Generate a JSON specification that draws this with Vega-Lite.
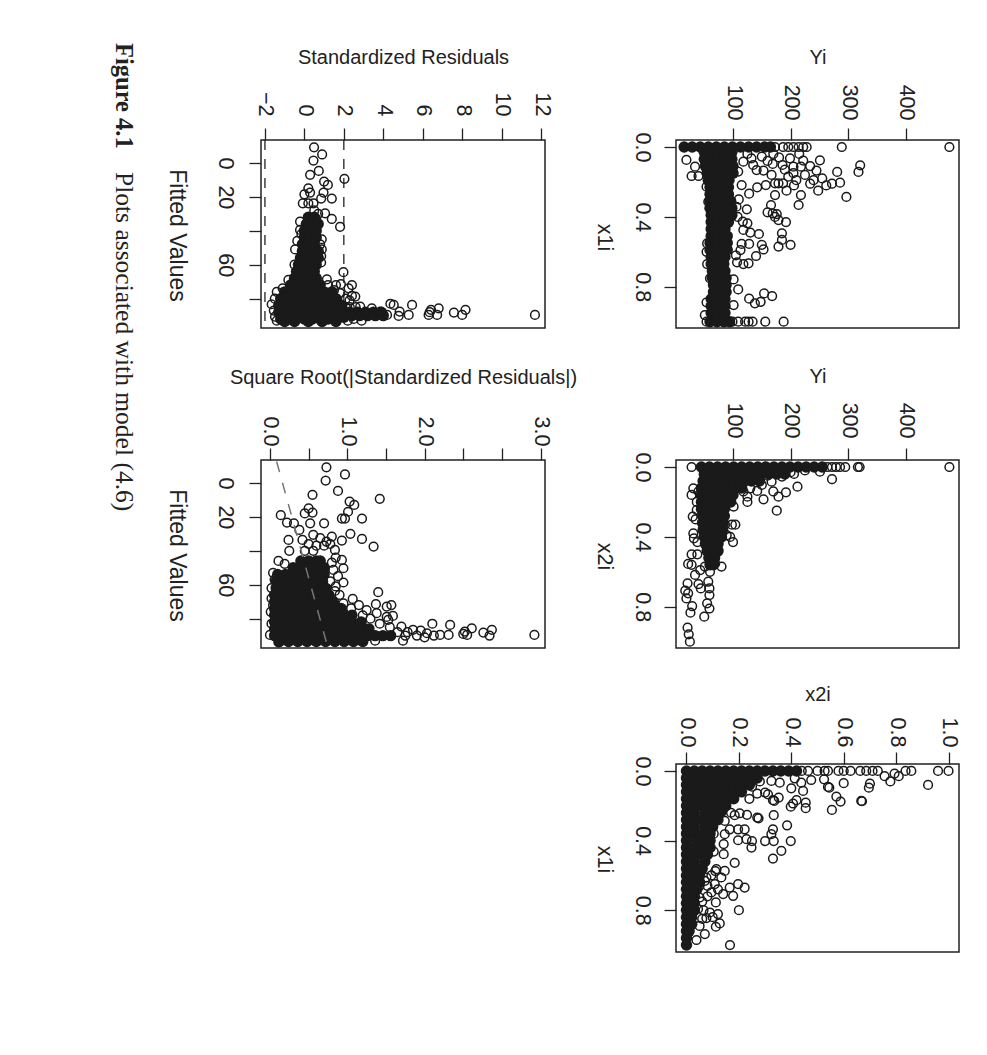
{"$schema":"https://vega.github.io/schema/vega-lite/v6.json","background":"white","padding":{"left":110,"top":43,"right":0,"bottom":0},"bounds":"flush","columns":3,"spacing":{"row":40,"column":131},
"config":{"axis":{"labelFont":"Liberation Sans","labelFontSize":21.5,"labelColor":"#222","tickColor":"#222","tickWidth":1.3,"tickSize":12,"domain":false,"grid":false,"titleFont":"Liberation Sans","titleFontSize":20,"titleFontWeight":"normal","titleColor":"#222","labelOverlap":false,"labelFlush":false,"labelBound":false}},
"datasets":{
"p1r":[{"x":476,"y":0},{"x":289,"y":0},{"x":228,"y":0},{"x":222,"y":0},{"x":214,"y":0},{"x":205,"y":0},{"x":196,"y":0},{"x":187,"y":0},{"x":173,"y":0},{"x":321,"y":0.105},{"x":318,"y":0.143},{"x":281,"y":0.143},{"x":286,"y":0.204},{"x":297,"y":0.286},{"x":251,"y":0.076},{"x":234,"y":0.109},{"x":245,"y":0.135},{"x":255,"y":0.18},{"x":272,"y":0.21},{"x":262,"y":0.22},{"x":248,"y":0.25},{"x":234,"y":0.21},{"x":222,"y":0.078},{"x":215,"y":0.04},{"x":218,"y":0.113},{"x":205,"y":0.113},{"x":196,"y":0.17},{"x":187,"y":0.208},{"x":193,"y":0.25},{"x":206,"y":0.22},{"x":218,"y":0.275},{"x":214,"y":0.332},{"x":173,"y":0.275},{"x":166,"y":0.332},{"x":160,"y":0.374},{"x":169,"y":0.38},{"x":176,"y":0.384},{"x":173,"y":0.4},{"x":179,"y":0.418},{"x":192,"y":0.43},{"x":185,"y":0.494},{"x":185,"y":0.532},{"x":200,"y":0.56},{"x":179,"y":0.57},{"x":150,"y":0.56},{"x":153,"y":0.586},{"x":140,"y":0.624},{"x":145,"y":0.498},{"x":130,"y":0.49},{"x":128,"y":0.555},{"x":115,"y":0.555},{"x":118,"y":0.475},{"x":125,"y":0.437},{"x":117,"y":0.427},{"x":124,"y":0.357},{"x":113,"y":0.59},{"x":127,"y":0.666},{"x":118,"y":0.67},{"x":109,"y":0.815},{"x":128,"y":0.868},{"x":138,"y":0.895},{"x":148,"y":0.886},{"x":154,"y":0.838},{"x":168,"y":0.853},{"x":188,"y":1},{"x":156,"y":1},{"x":134,"y":1},{"x":127,"y":1},{"x":121,"y":1},{"x":109,"y":1},{"x":128,"y":0.267},{"x":115,"y":0.218},{"x":142,"y":0.231},{"x":157,"y":0.218},{"x":173,"y":0.208},{"x":141,"y":0.132},{"x":153,"y":0.135},{"x":167,"y":0.16},{"x":179,"y":0.208},{"x":169,"y":0.097},{"x":186,"y":0.103},{"x":199,"y":0.065},{"x":150,"y":0.055},{"x":132,"y":0.065},{"x":135,"y":0.103},{"x":118,"y":0.084},{"x":109,"y":0.141},{"x":19,"y":0.074},{"x":34,"y":0.113},{"x":28,"y":0.166},{"x":40,"y":0.166},{"x":54,"y":0.227},{"x":57,"y":0.313},{"x":55,"y":0.552},{"x":54,"y":0.6},{"x":55,"y":0.67},{"x":60,"y":0.752},{"x":54,"y":0.889},{"x":51,"y":0.962},{"x":54,"y":1},{"x":106,"y":0.342},{"x":101,"y":0.758},{"x":101,"y":0.905},{"x":99,"y":1},{"x":180,"y":0.06},{"x":160,"y":0.08},{"x":205,"y":0.15},{"x":190,"y":0.13},{"x":225,"y":0.16},{"x":240,"y":0.19},{"x":210,"y":0.19},{"x":170,"y":0.04},{"x":125,"y":0.04},{"x":110,"y":0.3},{"x":108,"y":0.4},{"x":105,"y":0.62},{"x":107,"y":0.66}],
"p1c":[{"x":15,"y":0},{"x":29,"y":0},{"x":43,"y":0},{"x":57,"y":0},{"x":71,"y":0},{"x":85,"y":0},{"x":99,"y":0},{"x":113,"y":0},{"x":127,"y":0},{"x":141,"y":0},{"x":155,"y":0},{"x":165,"y":0},{"x":50,"y":0.03},{"x":62,"y":0.03},{"x":74,"y":0.03},{"x":86,"y":0.03},{"x":98,"y":0.03},{"x":50,"y":0.07},{"x":62,"y":0.07},{"x":74,"y":0.07},{"x":86,"y":0.07},{"x":98,"y":0.07},{"x":52,"y":0.11},{"x":64,"y":0.11},{"x":76,"y":0.11},{"x":88,"y":0.11},{"x":100,"y":0.11},{"x":55,"y":0.15},{"x":67,"y":0.15},{"x":79,"y":0.15},{"x":91,"y":0.15},{"x":100,"y":0.15},{"x":57,"y":0.19},{"x":69,"y":0.19},{"x":81,"y":0.19},{"x":93,"y":0.19},{"x":60,"y":0.23},{"x":70,"y":0.23},{"x":82,"y":0.23},{"x":92,"y":0.23},{"x":60,"y":0.27},{"x":72,"y":0.27},{"x":84,"y":0.27},{"x":92,"y":0.27},{"x":60,"y":0.31},{"x":72,"y":0.31},{"x":84,"y":0.31},{"x":96,"y":0.31},{"x":60,"y":0.35},{"x":72,"y":0.35},{"x":84,"y":0.35},{"x":98,"y":0.35},{"x":62,"y":0.39},{"x":74,"y":0.39},{"x":86,"y":0.39},{"x":98,"y":0.39},{"x":62,"y":0.43},{"x":74,"y":0.43},{"x":86,"y":0.43},{"x":92,"y":0.43},{"x":62,"y":0.47},{"x":74,"y":0.47},{"x":86,"y":0.47},{"x":62,"y":0.51},{"x":74,"y":0.51},{"x":86,"y":0.51},{"x":90,"y":0.51},{"x":60,"y":0.55},{"x":72,"y":0.55},{"x":84,"y":0.55},{"x":90,"y":0.55},{"x":60,"y":0.59},{"x":72,"y":0.59},{"x":84,"y":0.59},{"x":90,"y":0.59},{"x":62,"y":0.63},{"x":74,"y":0.63},{"x":86,"y":0.63},{"x":62,"y":0.67},{"x":74,"y":0.67},{"x":84,"y":0.67},{"x":64,"y":0.71},{"x":76,"y":0.71},{"x":86,"y":0.71},{"x":64,"y":0.75},{"x":76,"y":0.75},{"x":88,"y":0.75},{"x":66,"y":0.79},{"x":76,"y":0.79},{"x":88,"y":0.79},{"x":66,"y":0.83},{"x":76,"y":0.83},{"x":88,"y":0.83},{"x":62,"y":0.87},{"x":74,"y":0.87},{"x":86,"y":0.87},{"x":62,"y":0.91},{"x":74,"y":0.91},{"x":86,"y":0.91},{"x":62,"y":0.95},{"x":74,"y":0.95},{"x":86,"y":0.95},{"x":60,"y":1},{"x":72,"y":1},{"x":84,"y":1},{"x":94,"y":1}],
"p2r":[{"x":476,"y":0},{"x":320,"y":0},{"x":317,"y":0},{"x":295,"y":0},{"x":286,"y":0},{"x":279,"y":0},{"x":272,"y":0},{"x":264,"y":0},{"x":28,"y":0},{"x":272,"y":0.07},{"x":251,"y":0.027},{"x":212,"y":0.113},{"x":206,"y":0.04},{"x":192,"y":0.145},{"x":176,"y":0.25},{"x":179,"y":0.17},{"x":170,"y":0.14},{"x":185,"y":0.055},{"x":153,"y":0.185},{"x":125,"y":0.2},{"x":125,"y":0.17},{"x":142,"y":0.137},{"x":130,"y":0.122},{"x":150,"y":0.103},{"x":167,"y":0.084},{"x":101,"y":0.227},{"x":98,"y":0.33},{"x":104,"y":0.33},{"x":95,"y":0.4},{"x":100,"y":0.43},{"x":80,"y":0.57},{"x":86,"y":0.33},{"x":89,"y":0.39},{"x":31,"y":0.122},{"x":28,"y":0.16},{"x":37,"y":0.2},{"x":37,"y":0.246},{"x":30,"y":0.284},{"x":31,"y":0.38},{"x":32,"y":0.408},{"x":28,"y":0.5},{"x":22,"y":0.555},{"x":38,"y":0.5},{"x":28,"y":0.56},{"x":21,"y":0.666},{"x":17,"y":0.708},{"x":22,"y":0.723},{"x":19,"y":0.752},{"x":34,"y":0.618},{"x":40,"y":0.67},{"x":44,"y":0.695},{"x":57,"y":0.656},{"x":59,"y":0.695},{"x":59,"y":0.733},{"x":55,"y":0.78},{"x":59,"y":0.81},{"x":29,"y":0.796},{"x":26,"y":0.834},{"x":50,"y":0.857},{"x":21,"y":0.92},{"x":23,"y":0.958},{"x":25,"y":1},{"x":69,"y":0.504},{"x":63,"y":0.552},{"x":51,"y":0.57},{"x":43,"y":0.59},{"x":60,"y":0.6},{"x":69,"y":0.552},{"x":38,"y":0.43},{"x":35,"y":0.3},{"x":40,"y":0.14},{"x":110,"y":0.12},{"x":118,"y":0.14},{"x":160,"y":0.05},{"x":200,"y":0.03},{"x":225,"y":0.02}],
"p2c":[{"x":45,"y":0},{"x":59,"y":0},{"x":73,"y":0},{"x":87,"y":0},{"x":101,"y":0},{"x":115,"y":0},{"x":129,"y":0},{"x":143,"y":0},{"x":157,"y":0},{"x":171,"y":0},{"x":185,"y":0},{"x":199,"y":0},{"x":213,"y":0},{"x":227,"y":0},{"x":241,"y":0},{"x":255,"y":0},{"x":50,"y":0.04},{"x":64,"y":0.04},{"x":78,"y":0.04},{"x":92,"y":0.04},{"x":106,"y":0.04},{"x":120,"y":0.04},{"x":134,"y":0.04},{"x":148,"y":0.04},{"x":162,"y":0.04},{"x":176,"y":0.04},{"x":190,"y":0.04},{"x":48,"y":0.08},{"x":62,"y":0.08},{"x":76,"y":0.08},{"x":90,"y":0.08},{"x":104,"y":0.08},{"x":118,"y":0.08},{"x":132,"y":0.08},{"x":146,"y":0.08},{"x":45,"y":0.12},{"x":59,"y":0.12},{"x":73,"y":0.12},{"x":87,"y":0.12},{"x":101,"y":0.12},{"x":115,"y":0.12},{"x":45,"y":0.16},{"x":59,"y":0.16},{"x":73,"y":0.16},{"x":87,"y":0.16},{"x":100,"y":0.16},{"x":45,"y":0.2},{"x":59,"y":0.2},{"x":73,"y":0.2},{"x":87,"y":0.2},{"x":96,"y":0.2},{"x":45,"y":0.24},{"x":59,"y":0.24},{"x":73,"y":0.24},{"x":85,"y":0.24},{"x":47,"y":0.28},{"x":59,"y":0.28},{"x":73,"y":0.28},{"x":85,"y":0.28},{"x":47,"y":0.32},{"x":59,"y":0.32},{"x":73,"y":0.32},{"x":83,"y":0.32},{"x":48,"y":0.36},{"x":60,"y":0.36},{"x":72,"y":0.36},{"x":82,"y":0.36},{"x":50,"y":0.4},{"x":62,"y":0.4},{"x":74,"y":0.4},{"x":80,"y":0.4},{"x":52,"y":0.44},{"x":64,"y":0.44},{"x":74,"y":0.44},{"x":55,"y":0.48},{"x":66,"y":0.48},{"x":74,"y":0.48},{"x":58,"y":0.52},{"x":68,"y":0.52},{"x":60,"y":0.56},{"x":66,"y":0.56}],
"p3r":[{"x":1,"y":0},{"x":0.96,"y":0},{"x":0.858,"y":0},{"x":0.836,"y":0},{"x":0.794,"y":0.015},{"x":0.81,"y":0.03},{"x":0.778,"y":0.06},{"x":0.756,"y":0.03},{"x":0.73,"y":0},{"x":0.71,"y":0},{"x":0.686,"y":0},{"x":0.663,"y":0},{"x":0.626,"y":0},{"x":0.6,"y":0},{"x":0.58,"y":0},{"x":0.54,"y":0},{"x":0.527,"y":0},{"x":0.5,"y":0},{"x":0.464,"y":0},{"x":0.44,"y":0},{"x":0.922,"y":0.08},{"x":0.7,"y":0.073},{"x":0.696,"y":0.096},{"x":0.6,"y":0.07},{"x":0.54,"y":0.092},{"x":0.545,"y":0.096},{"x":0.525,"y":0.048},{"x":0.476,"y":0.052},{"x":0.445,"y":0.115},{"x":0.4,"y":0.1},{"x":0.413,"y":0.042},{"x":0.438,"y":0.067},{"x":0.356,"y":0.067},{"x":0.324,"y":0.057},{"x":0.3,"y":0.124},{"x":0.311,"y":0.134},{"x":0.33,"y":0.168},{"x":0.335,"y":0.172},{"x":0.352,"y":0.153},{"x":0.572,"y":0.147},{"x":0.588,"y":0.176},{"x":0.555,"y":0.224},{"x":0.667,"y":0.172},{"x":0.67,"y":0.174},{"x":0.455,"y":0.182},{"x":0.455,"y":0.214},{"x":0.42,"y":0.168},{"x":0.407,"y":0.187},{"x":0.398,"y":0.205},{"x":0.333,"y":0.254},{"x":0.27,"y":0.268},{"x":0.275,"y":0.272},{"x":0.231,"y":0.252},{"x":0.203,"y":0.243},{"x":0.184,"y":0.254},{"x":0.384,"y":0.312},{"x":0.33,"y":0.335},{"x":0.324,"y":0.363},{"x":0.3,"y":0.403},{"x":0.333,"y":0.403},{"x":0.398,"y":0.403},{"x":0.362,"y":0.459},{"x":0.33,"y":0.503},{"x":0.25,"y":0.403},{"x":0.248,"y":0.44},{"x":0.222,"y":0.335},{"x":0.197,"y":0.335},{"x":0.165,"y":0.335},{"x":0.229,"y":0.392},{"x":0.197,"y":0.398},{"x":0.146,"y":0.363},{"x":0.142,"y":0.42},{"x":0.142,"y":0.478},{"x":0.184,"y":0.528},{"x":0.104,"y":0.463},{"x":0.104,"y":0.36},{"x":0.222,"y":0.67},{"x":0.197,"y":0.65},{"x":0.165,"y":0.67},{"x":0.178,"y":0.717},{"x":0.2,"y":0.8},{"x":0.166,"y":1},{"x":0.146,"y":0.574},{"x":0.133,"y":0.612},{"x":0.12,"y":0.68},{"x":0.14,"y":0.707},{"x":0.108,"y":0.65},{"x":0.095,"y":0.698},{"x":0.112,"y":0.755},{"x":0.12,"y":0.822},{"x":0.127,"y":0.876},{"x":0.112,"y":0.895},{"x":0.076,"y":0.845},{"x":0.089,"y":0.813},{"x":0.05,"y":0.727},{"x":0.044,"y":0.793},{"x":0.07,"y":0.937},{"x":0.038,"y":0.971},{"x":0.076,"y":0.612},{"x":0.07,"y":0.631},{"x":0.114,"y":0.564},{"x":0.146,"y":0.287},{"x":0.11,"y":0.575},{"x":0.095,"y":0.6},{"x":0.08,"y":0.66},{"x":0.06,"y":0.85},{"x":0.05,"y":0.89},{"x":0.08,"y":0.72},{"x":0.1,"y":0.84},{"x":0.17,"y":0.24},{"x":0.14,"y":0.22},{"x":0.24,"y":0.16},{"x":0.27,"y":0.13},{"x":0.25,"y":0.09},{"x":0.28,"y":0.06},{"x":0.06,"y":0.75},{"x":0.065,"y":0.8},{"x":0.05,"y":0.66},{"x":0.045,"y":0.58}],
"p3c":[{"x":0,"y":0},{"x":0.03,"y":0},{"x":0.06,"y":0},{"x":0.09,"y":0},{"x":0.12,"y":0},{"x":0.15,"y":0},{"x":0.18,"y":0},{"x":0.21,"y":0},{"x":0.24,"y":0},{"x":0.27,"y":0},{"x":0.3,"y":0},{"x":0.33,"y":0},{"x":0.36,"y":0},{"x":0.39,"y":0},{"x":0.42,"y":0},{"x":0,"y":0.04},{"x":0.03,"y":0.04},{"x":0.06,"y":0.04},{"x":0.09,"y":0.04},{"x":0.12,"y":0.04},{"x":0.15,"y":0.04},{"x":0.18,"y":0.04},{"x":0.21,"y":0.04},{"x":0.24,"y":0.04},{"x":0.27,"y":0.04},{"x":0,"y":0.08},{"x":0.03,"y":0.08},{"x":0.06,"y":0.08},{"x":0.09,"y":0.08},{"x":0.12,"y":0.08},{"x":0.15,"y":0.08},{"x":0.18,"y":0.08},{"x":0.21,"y":0.08},{"x":0.24,"y":0.08},{"x":0,"y":0.12},{"x":0.03,"y":0.12},{"x":0.06,"y":0.12},{"x":0.09,"y":0.12},{"x":0.12,"y":0.12},{"x":0.15,"y":0.12},{"x":0.18,"y":0.12},{"x":0.21,"y":0.12},{"x":0,"y":0.16},{"x":0.03,"y":0.16},{"x":0.06,"y":0.16},{"x":0.09,"y":0.16},{"x":0.12,"y":0.16},{"x":0.15,"y":0.16},{"x":0.18,"y":0.16},{"x":0,"y":0.2},{"x":0.03,"y":0.2},{"x":0.06,"y":0.2},{"x":0.09,"y":0.2},{"x":0.12,"y":0.2},{"x":0.15,"y":0.2},{"x":0,"y":0.24},{"x":0.03,"y":0.24},{"x":0.07,"y":0.24},{"x":0.1,"y":0.24},{"x":0.13,"y":0.24},{"x":0,"y":0.28},{"x":0.03,"y":0.28},{"x":0.06,"y":0.28},{"x":0.09,"y":0.28},{"x":0.12,"y":0.28},{"x":0,"y":0.32},{"x":0.03,"y":0.32},{"x":0.07,"y":0.32},{"x":0.1,"y":0.32},{"x":0,"y":0.36},{"x":0.03,"y":0.36},{"x":0.06,"y":0.36},{"x":0.09,"y":0.36},{"x":0,"y":0.4},{"x":0.04,"y":0.4},{"x":0.07,"y":0.4},{"x":0.09,"y":0.4},{"x":0,"y":0.44},{"x":0.03,"y":0.44},{"x":0.06,"y":0.44},{"x":0.09,"y":0.44},{"x":0,"y":0.48},{"x":0.03,"y":0.48},{"x":0.06,"y":0.48},{"x":0.08,"y":0.48},{"x":0,"y":0.52},{"x":0.03,"y":0.52},{"x":0.07,"y":0.52},{"x":0,"y":0.56},{"x":0.03,"y":0.56},{"x":0.06,"y":0.56},{"x":0,"y":0.6},{"x":0.03,"y":0.6},{"x":0.05,"y":0.6},{"x":0,"y":0.64},{"x":0.03,"y":0.64},{"x":0.05,"y":0.64},{"x":0,"y":0.68},{"x":0.03,"y":0.68},{"x":0.04,"y":0.68},{"x":0,"y":0.72},{"x":0.03,"y":0.72},{"x":0,"y":0.76},{"x":0.03,"y":0.76},{"x":0,"y":0.8},{"x":0.03,"y":0.8},{"x":0,"y":0.84},{"x":0.02,"y":0.84},{"x":0,"y":0.88},{"x":0.02,"y":0.88},{"x":0,"y":0.92},{"x":0.01,"y":0.92},{"x":0,"y":0.96},{"x":0,"y":1}],
"p4r":[{"x":0.49,"y":-9.2},{"x":0.9,"y":-5},{"x":0.46,"y":-1.4},{"x":0.73,"y":4.7},{"x":0.29,"y":7},{"x":2.03,"y":9.4},{"x":1,"y":11},{"x":1.19,"y":13},{"x":0.2,"y":15},{"x":0.29,"y":17.5},{"x":0,"y":18.5},{"x":0.97,"y":17.5},{"x":1.39,"y":21},{"x":0.85,"y":21},{"x":-0.08,"y":23.8},{"x":0.46,"y":23.8},{"x":0.2,"y":23.8},{"x":1.05,"y":29.7},{"x":1.39,"y":33},{"x":1.81,"y":37.7},{"x":-0.22,"y":34.6},{"x":-0.22,"y":39.5},{"x":-0.36,"y":46},{"x":-0.47,"y":51},{"x":0.88,"y":45},{"x":0.88,"y":51},{"x":0.85,"y":58.7},{"x":1.98,"y":64.4},{"x":1.14,"y":68.6},{"x":1.85,"y":71.5},{"x":2.41,"y":72},{"x":2.24,"y":73.9},{"x":2.41,"y":78.4},{"x":2.58,"y":78.8},{"x":2.29,"y":81},{"x":1.81,"y":76.8},{"x":-0.81,"y":69},{"x":-1.4,"y":76},{"x":-1.66,"y":83.3},{"x":-1.49,"y":90.6},{"x":5.46,"y":83.7},{"x":11.69,"y":89.6},{"x":8.17,"y":86.6},{"x":8,"y":89.6},{"x":7.58,"y":88.2},{"x":6.81,"y":85.7},{"x":6.73,"y":89.6},{"x":6.42,"y":86.6},{"x":6.3,"y":89.6},{"x":6.35,"y":88},{"x":4.53,"y":83.7},{"x":4.36,"y":83},{"x":4.83,"y":87.6},{"x":5.29,"y":89.6},{"x":4.78,"y":90.2},{"x":2.9,"y":93},{"x":2.83,"y":84.7},{"x":3.42,"y":85.7},{"x":3.85,"y":87.6},{"x":4.19,"y":89.6},{"x":3.1,"y":88},{"x":2.6,"y":85},{"x":0.7,"y":30},{"x":0.5,"y":28},{"x":0.6,"y":33},{"x":-0.15,"y":42},{"x":0.8,"y":48},{"x":0.85,"y":55},{"x":-0.5,"y":60},{"x":1.6,"y":72},{"x":-1.1,"y":74},{"x":2.1,"y":80},{"x":2.1,"y":85},{"x":2.3,"y":85},{"x":1.2,"y":72},{"x":1.5,"y":75},{"x":-1.5,"y":80},{"x":-1.55,"y":87},{"x":-1.4,"y":93},{"x":2.2,"y":93},{"x":2.5,"y":92}],
"p4c":[{"x":0.2,"y":32},{"x":0.5,"y":32},{"x":0.1,"y":36},{"x":0.4,"y":36},{"x":0.7,"y":36},{"x":0,"y":40},{"x":0.3,"y":40},{"x":0.6,"y":40},{"x":0,"y":44},{"x":0.3,"y":44},{"x":0.6,"y":44},{"x":-0.1,"y":48},{"x":0.2,"y":48},{"x":0.5,"y":48},{"x":-0.1,"y":52},{"x":0.2,"y":52},{"x":0.5,"y":52},{"x":0.7,"y":52},{"x":-0.2,"y":56},{"x":0.1,"y":56},{"x":0.4,"y":56},{"x":0.7,"y":56},{"x":-0.3,"y":60},{"x":0,"y":60},{"x":0.3,"y":60},{"x":0.6,"y":60},{"x":-0.4,"y":64},{"x":-0.1,"y":64},{"x":0.2,"y":64},{"x":0.5,"y":64},{"x":-0.5,"y":68},{"x":-0.2,"y":68},{"x":0.1,"y":68},{"x":0.4,"y":68},{"x":0.6,"y":68},{"x":-0.7,"y":72},{"x":-0.4,"y":72},{"x":0,"y":72},{"x":0.4,"y":72},{"x":0.8,"y":72},{"x":-1,"y":76},{"x":-0.6,"y":76},{"x":-0.2,"y":76},{"x":0.2,"y":76},{"x":0.6,"y":76},{"x":1,"y":76},{"x":1.4,"y":76},{"x":-1.2,"y":80},{"x":-0.8,"y":80},{"x":-0.4,"y":80},{"x":0,"y":80},{"x":0.4,"y":80},{"x":0.8,"y":80},{"x":1.2,"y":80},{"x":1.6,"y":80},{"x":-1.3,"y":84},{"x":-0.9,"y":84},{"x":-0.5,"y":84},{"x":-0.1,"y":84},{"x":0.3,"y":84},{"x":0.7,"y":84},{"x":1.1,"y":84},{"x":1.5,"y":84},{"x":1.9,"y":84},{"x":-1.3,"y":88},{"x":-0.9,"y":88},{"x":-0.5,"y":88},{"x":-0.1,"y":88},{"x":0.3,"y":88},{"x":0.7,"y":88},{"x":1.1,"y":88},{"x":1.5,"y":88},{"x":1.9,"y":88},{"x":2.3,"y":88},{"x":2.7,"y":88},{"x":3.1,"y":88},{"x":3.5,"y":88},{"x":3.9,"y":88},{"x":-1.2,"y":92},{"x":-0.8,"y":92},{"x":-0.4,"y":92},{"x":0,"y":92},{"x":0.4,"y":92},{"x":0.8,"y":92},{"x":1.2,"y":92},{"x":1.6,"y":92},{"x":2,"y":91},{"x":2.4,"y":90},{"x":2.8,"y":90},{"x":3.2,"y":90},{"x":3.6,"y":90},{"x":4,"y":90},{"x":-1,"y":93.5},{"x":-0.5,"y":93.5},{"x":0.2,"y":93.5},{"x":0.9,"y":93.5},{"x":1.6,"y":93.5}],
"p5r":[{"x":0.73,"y":-9.2},{"x":0.97,"y":-5},{"x":0.72,"y":-1.4},{"x":0.88,"y":4.7},{"x":0.55,"y":7},{"x":1.42,"y":9.4},{"x":1.03,"y":11},{"x":1.09,"y":13},{"x":0.5,"y":15},{"x":0.55,"y":17.5},{"x":0.45,"y":18},{"x":1.01,"y":17},{"x":0.14,"y":19},{"x":1.19,"y":21},{"x":0.93,"y":21},{"x":0.97,"y":21},{"x":0.22,"y":23.4},{"x":0.31,"y":23.8},{"x":0.52,"y":23.8},{"x":0.7,"y":23.8},{"x":0.38,"y":27.7},{"x":0.56,"y":30.6},{"x":1.04,"y":30},{"x":1.19,"y":33},{"x":1.34,"y":37.5},{"x":0.24,"y":33.6},{"x":0.42,"y":33.6},{"x":0.8,"y":31.6},{"x":0.93,"y":34},{"x":0.65,"y":32.6},{"x":0.73,"y":34.6},{"x":0.25,"y":40},{"x":0.45,"y":40},{"x":0.56,"y":40},{"x":0.84,"y":39.5},{"x":0.11,"y":46},{"x":0.19,"y":47.7},{"x":0.93,"y":45.4},{"x":0.95,"y":50.3},{"x":0.82,"y":51.3},{"x":0.95,"y":58.7},{"x":0.84,"y":63.7},{"x":0.02,"y":62},{"x":1.4,"y":64.4},{"x":1.07,"y":68.4},{"x":1.37,"y":71.5},{"x":1.51,"y":72.9},{"x":1.57,"y":72},{"x":1.38,"y":76.8},{"x":1.51,"y":79},{"x":1.59,"y":78.4},{"x":1.53,"y":80.7},{"x":0.01,"y":76},{"x":0,"y":89.6},{"x":2.33,"y":83.7},{"x":2.1,"y":83},{"x":2.61,"y":85.7},{"x":2.52,"y":87.6},{"x":2.55,"y":89.6},{"x":2.5,"y":89},{"x":2.76,"y":88.2},{"x":2.87,"y":86.6},{"x":2.84,"y":90},{"x":3.42,"y":89.6},{"x":2.31,"y":89.6},{"x":2.2,"y":89.6},{"x":2.03,"y":88.6},{"x":1.85,"y":86.6},{"x":1.7,"y":84.7},{"x":1.72,"y":93},{"x":1.36,"y":93},{"x":0.11,"y":94},{"x":0.04,"y":53},{"x":0.06,"y":57},{"x":0.85,"y":44},{"x":0.6,"y":37},{"x":0.5,"y":36},{"x":0.7,"y":37},{"x":0.78,"y":36},{"x":0.8,"y":47},{"x":0.88,"y":55},{"x":0.78,"y":58},{"x":1.25,"y":75},{"x":1.15,"y":72},{"x":1.95,"y":87},{"x":1.78,"y":88},{"x":1.65,"y":88},{"x":2.12,"y":90},{"x":1.2,"y":78},{"x":1.3,"y":80},{"x":1.42,"y":83},{"x":1.55,"y":85},{"x":1.75,"y":90},{"x":1.9,"y":90},{"x":2,"y":91},{"x":1.05,"y":74},{"x":0.95,"y":71},{"x":0.9,"y":66},{"x":0.85,"y":61},{"x":0.02,"y":68},{"x":0.02,"y":83},{"x":0.04,"y":72}],
"p5c":[{"x":0.4,"y":46},{"x":0.5,"y":46},{"x":0.6,"y":46},{"x":0.65,"y":46},{"x":0.3,"y":50},{"x":0.4,"y":50},{"x":0.5,"y":50},{"x":0.6,"y":50},{"x":0.7,"y":50},{"x":0.1,"y":54},{"x":0.2,"y":54},{"x":0.3,"y":54},{"x":0.4,"y":54},{"x":0.5,"y":54},{"x":0.6,"y":54},{"x":0.7,"y":54},{"x":0.08,"y":58},{"x":0.18,"y":58},{"x":0.28,"y":58},{"x":0.38,"y":58},{"x":0.48,"y":58},{"x":0.58,"y":58},{"x":0.68,"y":58},{"x":0.08,"y":62},{"x":0.18,"y":62},{"x":0.28,"y":62},{"x":0.38,"y":62},{"x":0.48,"y":62},{"x":0.58,"y":62},{"x":0.68,"y":62},{"x":0.72,"y":62},{"x":0.06,"y":66},{"x":0.16,"y":66},{"x":0.26,"y":66},{"x":0.36,"y":66},{"x":0.46,"y":66},{"x":0.56,"y":66},{"x":0.66,"y":66},{"x":0.76,"y":66},{"x":0.06,"y":70},{"x":0.16,"y":70},{"x":0.26,"y":70},{"x":0.36,"y":70},{"x":0.46,"y":70},{"x":0.56,"y":70},{"x":0.66,"y":70},{"x":0.76,"y":70},{"x":0.82,"y":70},{"x":0.06,"y":74},{"x":0.16,"y":74},{"x":0.26,"y":74},{"x":0.36,"y":74},{"x":0.46,"y":74},{"x":0.56,"y":74},{"x":0.66,"y":74},{"x":0.76,"y":74},{"x":0.86,"y":74},{"x":0.92,"y":74},{"x":0.06,"y":78},{"x":0.16,"y":78},{"x":0.26,"y":78},{"x":0.36,"y":78},{"x":0.46,"y":78},{"x":0.56,"y":78},{"x":0.66,"y":78},{"x":0.76,"y":78},{"x":0.86,"y":78},{"x":0.96,"y":78},{"x":1.06,"y":78},{"x":0.06,"y":82},{"x":0.16,"y":82},{"x":0.26,"y":82},{"x":0.36,"y":82},{"x":0.46,"y":82},{"x":0.56,"y":82},{"x":0.66,"y":82},{"x":0.76,"y":82},{"x":0.86,"y":82},{"x":0.96,"y":82},{"x":1.06,"y":82},{"x":1.18,"y":82},{"x":0.06,"y":86},{"x":0.16,"y":86},{"x":0.26,"y":86},{"x":0.36,"y":86},{"x":0.46,"y":86},{"x":0.56,"y":86},{"x":0.66,"y":86},{"x":0.76,"y":86},{"x":0.86,"y":86},{"x":0.96,"y":86},{"x":1.06,"y":86},{"x":1.16,"y":86},{"x":1.28,"y":86},{"x":0.06,"y":90},{"x":0.16,"y":90},{"x":0.26,"y":90},{"x":0.36,"y":90},{"x":0.46,"y":90},{"x":0.56,"y":90},{"x":0.66,"y":90},{"x":0.76,"y":90},{"x":0.86,"y":90},{"x":0.96,"y":90},{"x":1.06,"y":90},{"x":1.16,"y":90},{"x":1.26,"y":90},{"x":1.36,"y":90},{"x":1.46,"y":90},{"x":1.56,"y":90},{"x":0.12,"y":93.5},{"x":0.24,"y":93.5},{"x":0.36,"y":93.5},{"x":0.48,"y":93.5},{"x":0.6,"y":93.5},{"x":0.72,"y":93.5},{"x":0.84,"y":93.5},{"x":0.96,"y":93.5},{"x":1.08,"y":93.5},{"x":1.2,"y":93.5}]
},
"concat":[
{"width":20,"height":188,"view":{"stroke":null},"data":{"values":[{"t":"Figure 4.1","b":"bold","p":-97,"q":6},{"t":"Plots associated with model (4.6)","b":"normal","p":32,"q":6}]},
 "layer":[{"transform":[{"filter":"datum.b=='bold'"}],"mark":{"type":"text","angle":90,"align":"left","baseline":"alphabetic","font":"Liberation Serif","fontSize":24.5,"fontWeight":"bold","color":"#222"},"encoding":{"text":{"field":"t"},"x":{"field":"q","type":"quantitative","axis":null,"scale":{"domain":[0,20],"nice":false,"zero":false}},"y":{"field":"p","type":"quantitative","axis":null,"scale":{"domain":[0,188],"reverse":true,"nice":false,"zero":false}}}},
 {"transform":[{"filter":"datum.b=='normal'"}],"mark":{"type":"text","angle":90,"align":"left","baseline":"alphabetic","font":"Liberation Serif","fontSize":25.5,"color":"#222"},"encoding":{"text":{"field":"t"},"x":{"field":"q","type":"quantitative","axis":null,"scale":{"domain":[0,20],"nice":false,"zero":false}},"y":{"field":"p","type":"quantitative","axis":null,"scale":{"domain":[0,188],"reverse":true,"nice":false,"zero":false}}}}]},
{"width":284,"height":188,"view":{"stroke":"#222","strokeWidth":1.5},
 "layer":[{"data":{"values":[{"x":-2},{"x":2}]},"mark":{"type":"rule","color":"#222","strokeWidth":1.3,"strokeDash":[10,9]},"encoding":{"x":{"field":"x","type":"quantitative","scale":{"domain":[-2.2,12.2],"nice":false,"zero":false}}}},
 {"data":{"name":"p4c"},"mark":{"type":"point","filled":true,"size":130,"color":"#1a1a1a","opacity":1},"encoding":{"x":{"field":"x","type":"quantitative","scale":{"domain":[-2.2,12.2],"nice":false,"zero":false},"axis":{"orient":"top","title":"Standardized Residuals","titleY":-83,"titleBaseline":"middle","labelAngle":90,"labelAlign":"right","labelBaseline":"middle","labelPadding":12,"values":[-2,0,2,4,6,8,10,12]}},"y":{"field":"y","type":"quantitative","scale":{"domain":[-13.5,97.3],"reverse":true,"nice":false,"zero":false},"axis":{"title":"Fitted Values","titleFontSize":23,"titleX":-85,"titleY":95,"titleAngle":90,"titleAlign":"center","titleBaseline":"middle","labelAngle":90,"labelAlign":"center","labelBaseline":"middle","labelPadding":25,"values":[0,20,40,60,80],"labelExpr":"datum.value==40||datum.value==80?'':datum.label"}}}},
 {"data":{"name":"p4r"},"mark":{"type":"point","filled":false,"size":76,"color":"#1a1a1a","strokeWidth":1.5,"opacity":1},"encoding":{"x":{"field":"x","type":"quantitative"},"y":{"field":"y","type":"quantitative"}}}]},
{"width":283,"height":188,"view":{"stroke":"#222","strokeWidth":1.5},
 "layer":[{"data":{"name":"p1c"},"mark":{"type":"point","filled":true,"size":130,"color":"#1a1a1a","opacity":1},"encoding":{"x":{"field":"x","type":"quantitative","scale":{"domain":[0.9,492.7],"nice":false,"zero":false},"axis":{"orient":"top","title":"Yi","titleY":-83,"titleBaseline":"middle","labelAngle":90,"labelAlign":"right","labelBaseline":"middle","labelPadding":8,"values":[100,200,300,400]}},"y":{"field":"y","type":"quantitative","scale":{"domain":[-0.04,1.036],"reverse":true,"nice":false,"zero":false},"axis":{"title":"x1i","titleFontSize":21.5,"titleX":-73,"titleY":97,"titleAngle":90,"titleAlign":"center","titleBaseline":"middle","labelAngle":90,"labelAlign":"center","labelBaseline":"middle","labelPadding":23,"values":[0,0.2,0.4,0.6,0.8,1],"labelExpr":"datum.value==0||datum.value==0.4||datum.value==0.8?format(datum.value,'.1f'):''"}}}},
 {"data":{"name":"p1r"},"mark":{"type":"point","filled":false,"size":76,"color":"#1a1a1a","strokeWidth":1.5,"opacity":1},"encoding":{"x":{"field":"x","type":"quantitative"},"y":{"field":"y","type":"quantitative"}}}]},
{"width":20,"height":52,"view":{"stroke":null},"data":{"values":[]},"mark":"point","encoding":{}},
{"width":20,"height":52,"view":{"stroke":null},"data":{"values":[]},"mark":"point","encoding":{}},
{"width":20,"height":52,"view":{"stroke":null},"data":{"values":[]},"mark":"point","encoding":{}},
{"width":20,"height":188,"view":{"stroke":null},"data":{"values":[]},"mark":"point","encoding":{}},
{"width":284,"height":188,"view":{"stroke":"#222","strokeWidth":1.5},
 "layer":[{"data":{"name":"p5c"},"mark":{"type":"point","filled":true,"size":130,"color":"#1a1a1a","opacity":1},"encoding":{"x":{"field":"x","type":"quantitative","scale":{"domain":[-0.116,3.557],"nice":false,"zero":false},"axis":{"orient":"top","title":"Square Root(|Standardized Residuals|)","titleY":-83,"titleBaseline":"middle","labelAngle":90,"labelAlign":"right","labelBaseline":"middle","labelPadding":2,"values":[0,0.5,1,1.5,2,2.5,3,3.5],"labelExpr":"datum.value==3.5?'3.0':(datum.value==0||datum.value==1||datum.value==2?format(datum.value,'.1f'):'')"}},"y":{"field":"y","type":"quantitative","scale":{"domain":[-13.5,97.3],"reverse":true,"nice":false,"zero":false},"axis":{"title":"Fitted Values","titleFontSize":23,"titleX":-85,"titleY":95,"titleAngle":90,"titleAlign":"center","titleBaseline":"middle","labelAngle":90,"labelAlign":"center","labelBaseline":"middle","labelPadding":25,"values":[0,20,40,60,80],"labelExpr":"datum.value==40||datum.value==80?'':datum.label"}}}},
 {"data":{"name":"p5r"},"mark":{"type":"point","filled":false,"size":76,"color":"#1a1a1a","strokeWidth":1.5,"opacity":1},"encoding":{"x":{"field":"x","type":"quantitative"},"y":{"field":"y","type":"quantitative"}}},
 {"data":{"values":[{"x":0.086,"y":-12.6},{"x":0.73,"y":94}]},"mark":{"type":"line","color":"#777","strokeWidth":1.5,"strokeDash":[11,11]},"encoding":{"x":{"field":"x","type":"quantitative"},"y":{"field":"y","type":"quantitative"}}}]},
{"width":283,"height":188,"view":{"stroke":"#222","strokeWidth":1.5},
 "layer":[{"data":{"name":"p2c"},"mark":{"type":"point","filled":true,"size":130,"color":"#1a1a1a","opacity":1},"encoding":{"x":{"field":"x","type":"quantitative","scale":{"domain":[0.9,492.7],"nice":false,"zero":false},"axis":{"orient":"top","title":"Yi","titleY":-84,"titleBaseline":"middle","labelAngle":90,"labelAlign":"right","labelBaseline":"middle","labelPadding":10,"values":[100,200,300,400]}},"y":{"field":"y","type":"quantitative","scale":{"domain":[-0.04,1.036],"reverse":true,"nice":false,"zero":false},"axis":{"title":"x2i","titleFontSize":21.5,"titleX":-73,"titleY":96,"titleAngle":90,"titleAlign":"center","titleBaseline":"middle","labelAngle":90,"labelAlign":"center","labelBaseline":"middle","labelPadding":23,"values":[0,0.2,0.4,0.6,0.8,1],"labelExpr":"datum.value==0||datum.value==0.4||datum.value==0.8?format(datum.value,'.1f'):''"}}}},
 {"data":{"name":"p2r"},"mark":{"type":"point","filled":false,"size":76,"color":"#1a1a1a","strokeWidth":1.5,"opacity":1},"encoding":{"x":{"field":"x","type":"quantitative"},"y":{"field":"y","type":"quantitative"}}}]},
{"width":20,"height":36,"view":{"stroke":null},"data":{"values":[]},"mark":"point","encoding":{}},
{"width":20,"height":36,"view":{"stroke":null},"data":{"values":[]},"mark":"point","encoding":{}},
{"width":20,"height":36,"view":{"stroke":null},"data":{"values":[]},"mark":"point","encoding":{}},
{"width":20,"height":188,"view":{"stroke":null},"data":{"values":[]},"mark":"point","encoding":{}},
{"width":20,"height":188,"view":{"stroke":null},"data":{"values":[]},"mark":"point","encoding":{}},
{"width":283,"height":188,"view":{"stroke":"#222","strokeWidth":1.5},
 "layer":[{"data":{"name":"p3c"},"mark":{"type":"point","filled":true,"size":130,"color":"#1a1a1a","opacity":1},"encoding":{"x":{"field":"x","type":"quantitative","scale":{"domain":[-0.04,1.04],"nice":false,"zero":false},"axis":{"orient":"top","title":"x2i","titleY":-70,"titleBaseline":"middle","labelAngle":90,"labelAlign":"right","labelBaseline":"middle","labelPadding":5,"values":[0,0.2,0.4,0.6,0.8,1],"format":".1f"}},"y":{"field":"y","type":"quantitative","scale":{"domain":[-0.04,1.04],"reverse":true,"nice":false,"zero":false},"axis":{"title":"x1i","titleFontSize":21.5,"titleX":-73,"titleY":95,"titleAngle":90,"titleAlign":"center","titleBaseline":"middle","labelAngle":90,"labelAlign":"center","labelBaseline":"middle","labelPadding":23,"values":[0,0.2,0.4,0.6,0.8,1],"labelExpr":"datum.value==0||datum.value==0.4||datum.value==0.8?format(datum.value,'.1f'):''"}}}},
 {"data":{"name":"p3r"},"mark":{"type":"point","filled":false,"size":76,"color":"#1a1a1a","strokeWidth":1.5,"opacity":1},"encoding":{"x":{"field":"x","type":"quantitative"},"y":{"field":"y","type":"quantitative"}}}]}
]}
